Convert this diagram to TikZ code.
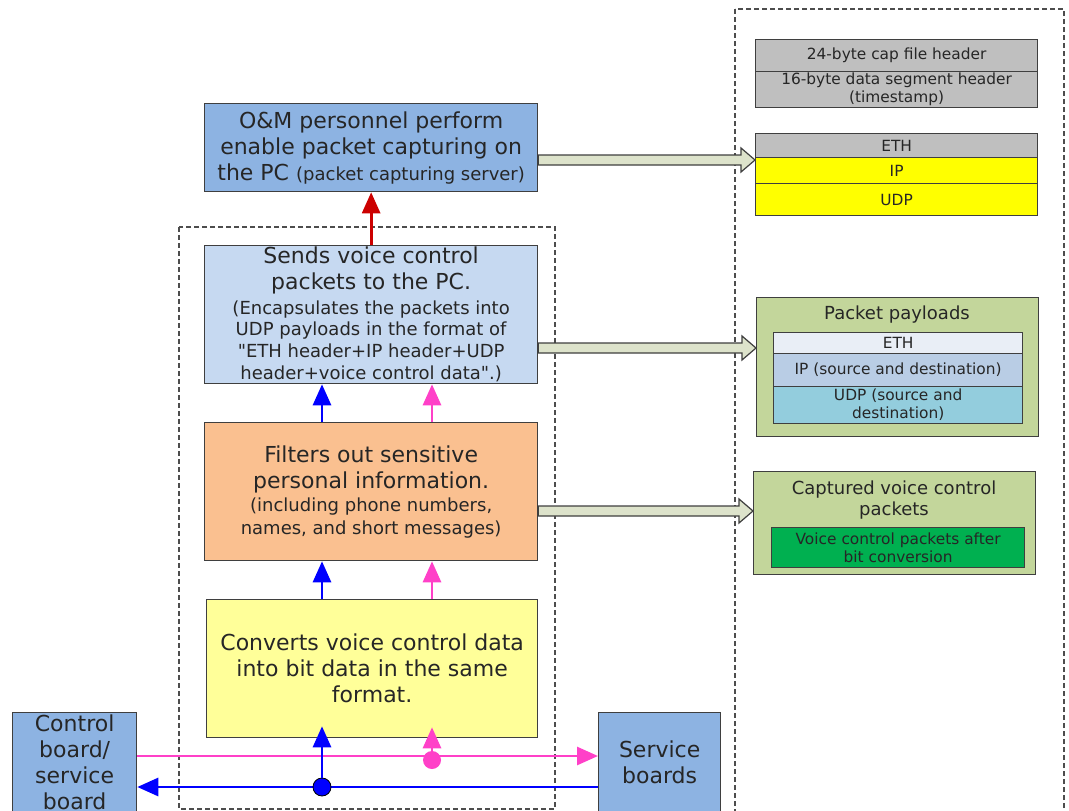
\documentclass[tikz,border=0pt]{standalone}
\usepackage{fontspec}
\setmainfont{DejaVu Sans}[Ligatures=TeXOff]
\usetikzlibrary{arrows.meta,calc}

\newcommand\bigtxt{\fontsize{22}{26}\selectfont}
\newcommand\smalltxt{\fontsize{18}{21}\selectfont}
\newcommand\hdrtxt{\fontsize{15.4}{18}\selectfont}
\newcommand\dq{\symbol{34}}

\definecolor{edge}{HTML}{3F3F3F}
\definecolor{txt}{HTML}{262626}
\definecolor{dashc}{HTML}{4D4D4D}
\definecolor{ombg}{HTML}{8DB3E2}
\definecolor{sendbg}{HTML}{C6D9F1}
\definecolor{filtbg}{HTML}{FAC090}
\definecolor{convbg}{HTML}{FFFF99}
\definecolor{hdrgrey}{HTML}{BFBFBF}
\definecolor{hdryel}{HTML}{FFFF00}
\definecolor{olive}{HTML}{C3D69B}
\definecolor{ethlt}{HTML}{E9EEF6}
\definecolor{iplt}{HTML}{B9CDE5}
\definecolor{udplt}{HTML}{93CDDD}
\definecolor{greenin}{HTML}{00B050}
\definecolor{arrfill}{HTML}{DDE3CB}
\definecolor{redc}{HTML}{CC0000}
\definecolor{bluec}{HTML}{0000FF}
\definecolor{pinkc}{HTML}{FF40C8}

% hollow block arrow between two points on the same level
\newcommand\fatarrow[2]{%
  \filldraw[barrow] ($(#1)+(0,-5)$) -- ($(#2)+(-14,-5)$) -- ($(#2)+(-14,-12)$)
    -- (#2) -- ($(#2)+(-14,12)$) -- ($(#2)+(-14,5)$) -- ($(#1)+(0,5)$) -- cycle;}

\begin{document}
\begin{tikzpicture}[x=1pt,y=-1pt,
  box/.style={draw=edge, line width=1.3pt, inner sep=0pt, align=center,
    text=txt, anchor=north west},
  lbl/.style={inner sep=0pt, align=center, text=txt},
  dashbox/.style={draw=dashc, line width=1.1pt, dash pattern=on 5pt off 3pt},
  barrow/.style={fill=arrfill, draw=edge, line width=1.2pt, line join=miter},
  conn/.style={line width=2.8pt, -{Triangle[length=21pt,width=18pt]}},
  dot/.style={circle, inner sep=0pt, minimum size=18pt}]
\useasboundingbox (0,0) rectangle (1069,811);
\clip (0,0) rectangle (1069,811);

% dashed groupings
\draw[dashbox] (179,227) rectangle (555,809);
\draw[dashbox] (735,9) rectangle (1064,840);

% processing chain
\node[box, fill=ombg, minimum width=333pt, minimum height=88pt, font=\bigtxt] (om) at (204,103)
  {O\&M personnel perform\\enable packet capturing on\\the PC {\smalltxt (packet capturing server)}};
\node[box, fill=sendbg, minimum width=333pt, minimum height=138pt, font=\bigtxt] (sends) at (204,245)
  {Sends voice control\\packets to the PC.\\[-1pt]
   \smalltxt (Encapsulates the packets into\\[-5pt]
   \smalltxt UDP payloads in the format of\\[-4pt]
   \smalltxt \dq ETH header+IP header+UDP\\[-4pt]
   \smalltxt header+voice control data\dq.)};
\node[box, fill=filtbg, minimum width=333pt, minimum height=138pt, font=\bigtxt] (filt) at (204,422)
  {Filters out sensitive\\personal information.\\[-3pt]
   \smalltxt (including phone numbers,\\[-3pt]
   \smalltxt names, and short messages)};
\node[box, fill=convbg, minimum width=331pt, minimum height=138pt, font=\bigtxt] (conv) at (206,599)
  {Converts voice control data\\into bit data in the same\\format.};
\node[box, fill=ombg, minimum width=124pt, minimum height=100pt, font=\bigtxt] (ctrl) at (12,712)
  {Control\\board/\\service\\board};
\node[box, fill=ombg, minimum width=122pt, minimum height=100pt, font=\bigtxt] (svc) at (598,712)
  {Service\\boards};

% capture file layout
\node[box, fill=hdrgrey, minimum width=282pt, minimum height=32pt, font=\hdrtxt] (cap) at (755,39)
  {24-byte cap file header};
\node[box, fill=hdrgrey, minimum width=282pt, minimum height=36pt, font=\hdrtxt] (seg) at (755,71)
  {16-byte data segment header\\(timestamp)};
\node[box, fill=hdrgrey, minimum width=282pt, minimum height=24pt, font=\hdrtxt] (eth) at (755,133) {ETH};
\node[box, fill=hdryel, minimum width=282pt, minimum height=26pt, font=\hdrtxt] (ip) at (755,157) {IP};
\node[box, fill=hdryel, minimum width=282pt, minimum height=32pt, font=\hdrtxt] (udp) at (755,183) {UDP};

% packet payloads
\node[box, fill=olive, minimum width=282pt, minimum height=139pt] (pay) at (756,297) {};
\node[lbl, font=\smalltxt] (paytitle) at (897,315) {Packet payloads};
\node[box, fill=ethlt, minimum width=249pt, minimum height=21pt, font=\hdrtxt] (peth) at (773,332) {ETH};
\node[box, fill=iplt, minimum width=249pt, minimum height=33pt, font=\hdrtxt] (pip) at (773,353)
  {IP (source and destination)};
\node[box, fill=udplt, minimum width=249pt, minimum height=37pt, font=\hdrtxt] (pudp) at (773,386)
  {UDP (source and\\destination)};

% captured packets
\node[box, fill=olive, minimum width=282pt, minimum height=103pt] (capt) at (753,471) {};
\node[lbl, font=\smalltxt] (capttitle) at (894,500.5) {Captured voice control\\packets};
\node[box, fill=greenin, minimum width=253pt, minimum height=40pt, font=\hdrtxt] (bits) at (771,527)
  {Voice control packets after\\bit conversion};

% reference levels and columns
\coordinate (xb) at (322,0);
\coordinate (xp) at (432,0);
\coordinate (ya1) at (0,160);
\coordinate (ya2) at (0,348);
\coordinate (ya3) at (0,511);
\coordinate (ypk) at (0,756);
\coordinate (ybl) at (0,787);

% block arrows to the data layouts
\fatarrow{om.east |- ya1}{eth.west |- ya1}
\fatarrow{sends.east |- ya2}{pay.west |- ya2}
\fatarrow{filt.east |- ya3}{capt.west |- ya3}

% flow between stages
\draw[conn, draw=redc] (sends.north) -- (om.south);
\draw[conn, draw=bluec] (filt.north -| xb) -- (sends.south -| xb);
\draw[conn, draw=pinkc] (filt.north -| xp) -- (sends.south -| xp);
\draw[conn, draw=bluec] (conv.north -| xb) -- (filt.south -| xb);
\draw[conn, draw=pinkc] (conv.north -| xp) -- (filt.south -| xp);

% board traffic
\draw[conn, draw=pinkc] (ctrl.east |- ypk) -- (svc.west |- ypk);
\draw[conn, draw=bluec] (svc.west |- ybl) -- (ctrl.east |- ybl);
\node[dot, fill=bluec, draw=black, line width=0.8pt] (bdot) at (xb |- ybl) {};
\node[dot, fill=pinkc] (pdot) at (432,760) {};
\draw[conn, draw=bluec] (bdot) -- ([yshift=12pt]conv.south -| xb);
\draw[conn, draw=pinkc] (pdot) -- ([yshift=11pt]conv.south -| xp);
\end{tikzpicture}
\end{document}
